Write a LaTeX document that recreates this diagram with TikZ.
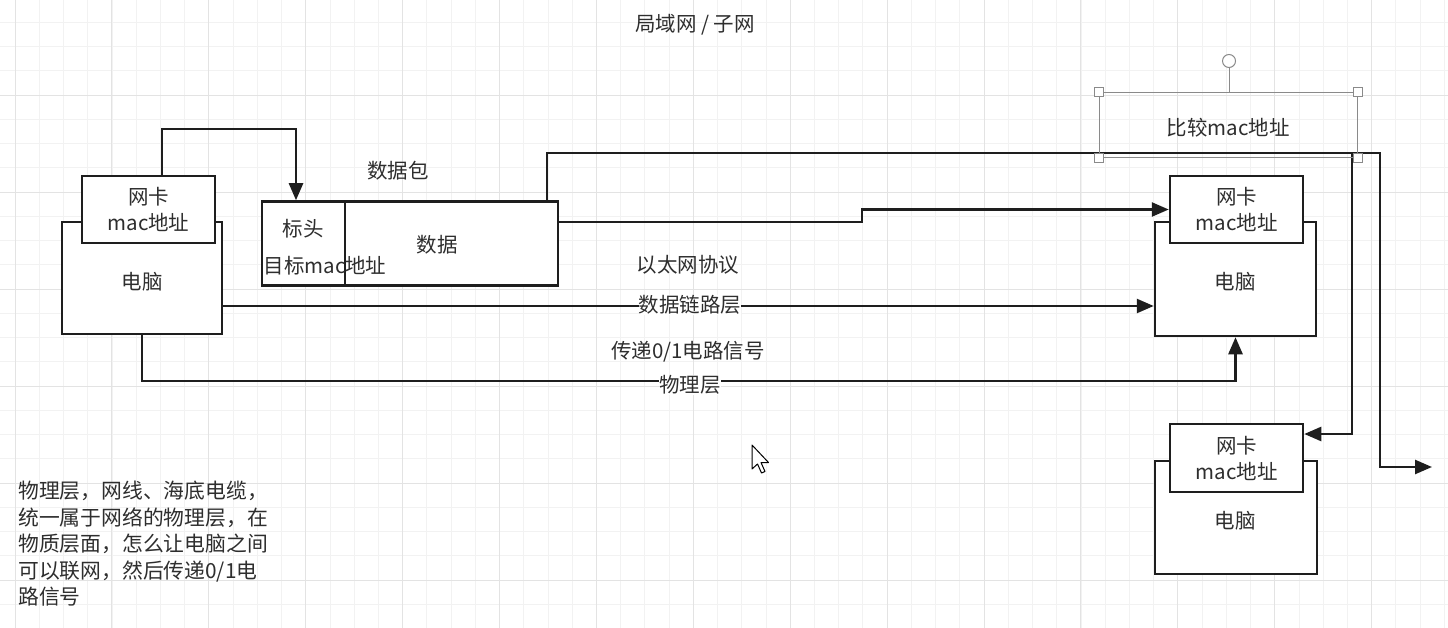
\documentclass[tikz,border=0pt]{standalone}
\usepackage{fontspec}
\setmainfont{Noto Sans CJK SC}
\usetikzlibrary{arrows.meta}
\definecolor{txt}{HTML}{2E2E2E}
\definecolor{ln}{HTML}{1E1E1E}
\definecolor{gmin}{HTML}{F2F2F2}
\definecolor{gmaj}{HTML}{E3E3E3}
\definecolor{sel}{HTML}{8A8A8A}
\begin{document}
\begin{tikzpicture}[x=1pt,y=-1pt,
  box/.style={draw=ln,line width=2.5pt,fill=white,rectangle,inner sep=0pt,text=txt,align=center,font=\fontsize{20.5}{26}\selectfont},
  lbl/.style={text=txt,font=\fontsize{20.5}{24}\selectfont,inner sep=1pt},
  conn/.style={draw=ln,line width=2.5pt,-{Triangle[length=17pt,width=14pt]}},
  handle/.style={draw=sel,fill=white,line width=1pt,minimum size=9pt,inner sep=0pt,rectangle}
]
% background and grid
\path[fill=white] (0,0) rectangle (1448,628);
\useasboundingbox (0,0) rectangle (1448,628);
\foreach \i in {0,...,59} {\draw[gmin,line width=0.8pt] ({15+\i*24.225},0) -- ({15+\i*24.225},628);}
\foreach \i in {1,...,25} {\draw[gmin,line width=0.8pt] (0,{-2+\i*24.25}) -- (1448,{-2+\i*24.25});}
\foreach \i in {0,...,14} {\draw[gmaj,line width=0.9pt] ({15+\i*96.9},0) -- ({15+\i*96.9},628);}
\foreach \i in {1,...,6} {\draw[gmaj,line width=0.9pt] (0,{-2+\i*97}) -- (1448,{-2+\i*97});}

% title
\node[lbl] (title) at (695,25) {局域网 / 子网};

% left computer
\node[box,minimum width=160pt,minimum height=112pt] (pc1) at (142,278) {};
\node[lbl] (pc1t) at (142,282) {电脑};
\node[box,minimum width=133pt,minimum height=67pt] (nic1) at (148.5,209.5) {网卡\\mac地址};

% packet
\node[box,minimum width=296pt,minimum height=84pt] (pkt) at (410,243.5) {};
\node[box,minimum width=83pt,minimum height=84pt,anchor=north west] (hdr) at (pkt.north west) {};
\node[lbl] (hdrt) at (303,229) {标头};
\node[lbl] (pktd) at (437,245) {数据};
\node[lbl] (pkttitle) at (398,171) {数据包};

% right top computer
\node[box,minimum width=161pt,minimum height=114pt] (pc2) at (1235.5,279) {};
\node[lbl] (pc2t) at (1235,282) {电脑};
\node[box,minimum width=133pt,minimum height=67pt] (nic2) at (1236.5,209.5) {网卡\\mac地址};

% right bottom computer
\node[box,minimum width=162pt,minimum height=113pt] (pc3) at (1236,517.5) {};
\node[lbl] (pc3t) at (1235,521) {电脑};
\node[box,minimum width=133pt,minimum height=68pt] (nic3) at (1236.5,458) {网卡\\mac地址};

\node[lbl] (dst) at (325,266) {目标mac地址};

% connectors
\coordinate (out) at (1432,467);
\coordinate (br) at (1352,153);
\draw[conn] ([xshift=13.5pt]nic1.north) |- (230,129) -| ([xshift=-114pt]pkt.north);
\draw[conn] ([xshift=137pt]pkt.north) |- (1380,153) |- (out);
\draw[conn] (br) |- (nic3.east |- 0,434);
\draw[conn] (pkt.east |- 0,222) -- (862,222) |- (nic2.west);
\draw[conn] (pc1.east |- 0,306) -- (pc2.west |- 0,306);
\draw[conn] (pc1.south) |- (700,381) -| (pc2.south);

\node[lbl] (eth) at (688,265) {以太网协议};
\node[lbl,fill=white,inner sep=0pt] (dll) at (690,305) {数据链路层};
\node[lbl] (sig) at (688,352) {传递0/1电路信号};
\node[lbl,fill=white,inner sep=0pt] (phy) at (690,385) {物理层};

% selection box
\node[draw=sel,line width=1pt,minimum width=258pt,minimum height=65pt,inner sep=0pt] (cmp) at (1228,125.5) {};
\node[lbl] (cmpt) at (1228,128) {比较mac地址};
\node[draw=sel,circle,minimum size=13pt,inner sep=0pt,fill=white,line width=1pt] (rot) at (1229,61) {};
\draw[sel,line width=1pt] (rot.south) -- (rot.south |- cmp.north);
\node[handle] (h1) at (cmp.north west) {};
\node[handle] (h2) at (cmp.north east) {};
\node[handle] (h3) at (cmp.south west) {};
\node[handle] (h4) at (cmp.south east) {};

% note
\node[text=txt,anchor=north west,align=left,inner sep=0pt,font=\fontsize{20.8}{26.5}\selectfont] (note) at (18,481) {物理层，网线、海底电缆，\\统一属于网络的物理层，在\\物质层面，怎么让电脑之间\\可以联网，然后传递0/1电\\路信号};

% mouse cursor
\draw[black,fill=white,line width=1pt,line join=round] (752,445) -- (752,469) -- (757.5,464) -- (761.5,473) -- (765,471.5) -- (761,462.5) -- (768.5,462.5) -- cycle;
\end{tikzpicture}
\end{document}
